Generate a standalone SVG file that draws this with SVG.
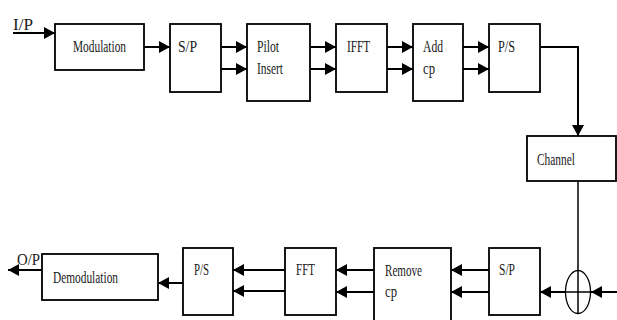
<svg xmlns="http://www.w3.org/2000/svg" width="617" height="320" viewBox="0 0 617 320">
<defs>
<style>
.box{fill:#fff;stroke:#000;stroke-width:1.8}
.ln{stroke:#000;stroke-width:2;fill:none}
.thin{stroke:#000;stroke-width:1.5;fill:none}
</style>
<marker id="ah" markerUnits="userSpaceOnUse" markerWidth="11" markerHeight="12" refX="11" refY="6" orient="auto">
<path d="M0,0 L11,6 L0,12 z" fill="#000"/>
</marker>
</defs>
<rect width="617" height="320" fill="#fff"/>
<g id="connectors">
<line class="ln" x1="13" y1="33" x2="55" y2="33" marker-end="url(#ah)"/>
<line class="ln" x1="144" y1="47" x2="170" y2="47" marker-end="url(#ah)"/>
<line class="ln" x1="221" y1="47" x2="247" y2="47" marker-end="url(#ah)"/>
<line class="ln" x1="221" y1="69" x2="247" y2="69" marker-end="url(#ah)"/>
<line class="ln" x1="310" y1="47" x2="336" y2="47" marker-end="url(#ah)"/>
<line class="ln" x1="310" y1="69" x2="336" y2="69" marker-end="url(#ah)"/>
<line class="ln" x1="387" y1="47" x2="413" y2="47" marker-end="url(#ah)"/>
<line class="ln" x1="387" y1="69" x2="413" y2="69" marker-end="url(#ah)"/>
<line class="ln" x1="463" y1="47" x2="489" y2="47" marker-end="url(#ah)"/>
<line class="ln" x1="463" y1="69" x2="489" y2="69" marker-end="url(#ah)"/>
<polyline class="ln" points="540,47 578,47 578,136" marker-end="url(#ah)"/>
<line class="thin" x1="578" y1="181" x2="578" y2="314"/>
<ellipse cx="578" cy="292" rx="12.5" ry="21.5" fill="none" stroke="#000" stroke-width="1.3"/>
<line class="ln" x1="617" y1="292" x2="591" y2="292" marker-end="url(#ah)"/>
<line class="thin" x1="565" y1="292" x2="591" y2="292"/>
<line class="ln" x1="566" y1="292" x2="540" y2="292" marker-end="url(#ah)"/>
<line class="ln" x1="489" y1="270" x2="451" y2="270" marker-end="url(#ah)"/>
<line class="ln" x1="489" y1="292" x2="451" y2="292" marker-end="url(#ah)"/>
<line class="ln" x1="374" y1="270" x2="336" y2="270" marker-end="url(#ah)"/>
<line class="ln" x1="374" y1="292" x2="336" y2="292" marker-end="url(#ah)"/>
<line class="ln" x1="285" y1="270" x2="233" y2="270" marker-end="url(#ah)"/>
<line class="ln" x1="285" y1="291" x2="233" y2="291" marker-end="url(#ah)"/>
<line class="ln" x1="183" y1="283" x2="158" y2="283" marker-end="url(#ah)"/>
<line class="ln" x1="42" y1="270" x2="8" y2="270" marker-end="url(#ah)"/>
</g>
<g font-family="Liberation Serif, Times New Roman, serif" font-size="17" fill="#1a1a1a">
<g id="ip"><text x="13" y="30" textLength="20" lengthAdjust="spacingAndGlyphs">I/P</text></g>
<g id="modulation"><rect class="box" x="55" y="24" width="89" height="46"/><text x="73" y="52" textLength="53" lengthAdjust="spacingAndGlyphs">Modulation</text></g>
<g id="sp1"><rect class="box" x="170" y="24" width="51" height="68"/><text x="178" y="52" textLength="19" lengthAdjust="spacingAndGlyphs">S/P</text></g>
<g id="pilot"><rect class="box" x="247" y="24" width="63" height="77"/><text x="257" y="52" textLength="22" lengthAdjust="spacingAndGlyphs">Pilot</text><text x="257" y="74" textLength="26" lengthAdjust="spacingAndGlyphs">Insert</text></g>
<g id="ifft"><rect class="box" x="336" y="24" width="51" height="68"/><text x="347" y="52" textLength="23" lengthAdjust="spacingAndGlyphs">IFFT</text></g>
<g id="addcp"><rect class="box" x="413" y="24" width="50" height="77"/><text x="423" y="52" textLength="20" lengthAdjust="spacingAndGlyphs">Add</text><text x="423" y="74" textLength="12" lengthAdjust="spacingAndGlyphs">cp</text></g>
<g id="ps1"><rect class="box" x="489" y="24" width="51" height="68"/><text x="498" y="52" textLength="17" lengthAdjust="spacingAndGlyphs">P/S</text></g>
<g id="channel"><rect class="box" x="527" y="136" width="89" height="45"/><text x="537" y="165" textLength="38" lengthAdjust="spacingAndGlyphs">Channel</text></g>
<g id="sp2"><rect class="box" x="489" y="248" width="51" height="67"/><text x="499" y="275" textLength="16" lengthAdjust="spacingAndGlyphs">S/P</text></g>
<g id="removecp"><rect class="box" x="374" y="248" width="77" height="80"/><text x="385" y="276" textLength="37" lengthAdjust="spacingAndGlyphs">Remove</text><text x="385" y="297" textLength="12" lengthAdjust="spacingAndGlyphs">cp</text></g>
<g id="fft"><rect class="box" x="285" y="248" width="51" height="67"/><text x="296" y="275" textLength="19" lengthAdjust="spacingAndGlyphs">FFT</text></g>
<g id="ps2"><rect class="box" x="183" y="248" width="50" height="67"/><text x="194" y="275" textLength="15" lengthAdjust="spacingAndGlyphs">P/S</text></g>
<g id="demodulation"><rect class="box" x="42" y="254" width="116" height="46"/><text x="53" y="283" textLength="65" lengthAdjust="spacingAndGlyphs">Demodulation</text></g>
<g id="op"><text x="17" y="265" textLength="23" lengthAdjust="spacingAndGlyphs">O/P</text></g>
</g>
</svg>
